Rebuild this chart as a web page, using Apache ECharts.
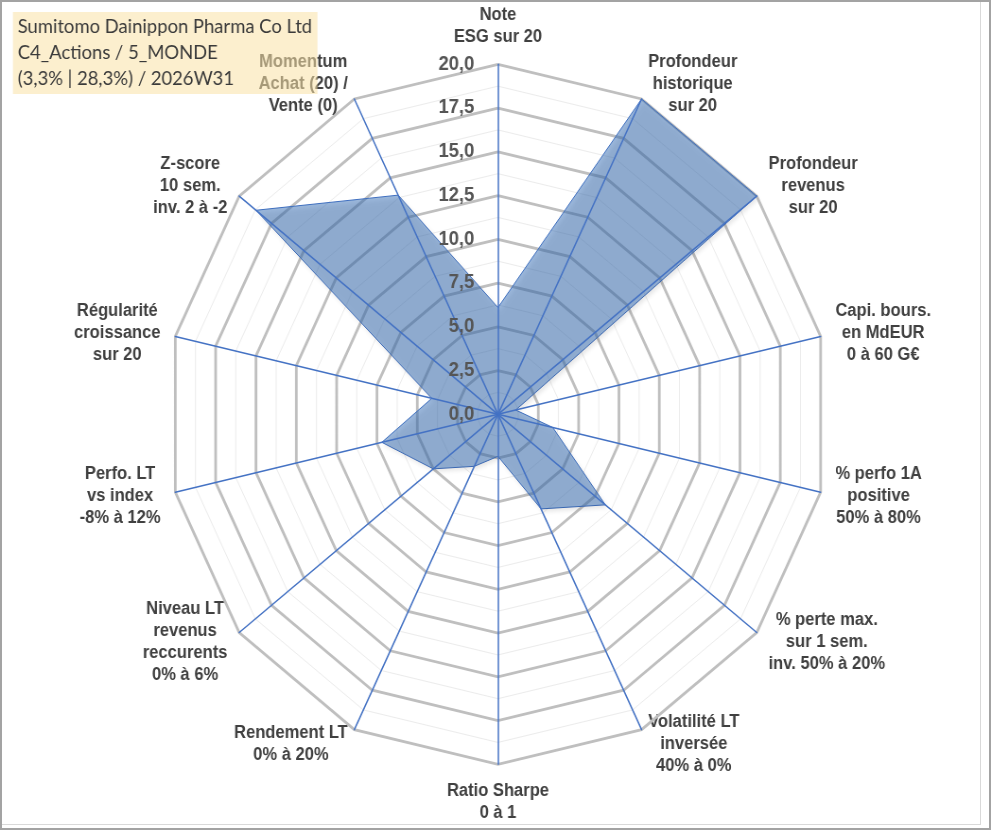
<!DOCTYPE html>
<html>
<head>
<meta charset="utf-8">
<script src="https://cdn.jsdelivr.net/npm/echarts@6/dist/echarts.min.js"></script>
<style>
  body { margin: 0; background: #fff; }
  #frame { position: absolute; left: 0; top: 0; width: 991px; height: 830px; overflow: hidden; background: #fff; }
  #chart { width: 1048px; height: 830px; transform: scaleX(0.94561); transform-origin: 0 0; }
  .inner { position: absolute; left: 0; top: 0; width: 981px; height: 825px; box-sizing: border-box;
           border-right: 1px solid #d9d9d9; border-bottom: 1px solid #d9d9d9; }
  .outer { position: absolute; left: 0; top: 0; width: 991px; height: 830px; box-sizing: border-box;
           border: 2px solid #a3a3a3; }
</style>
</head>
<body>
<div id="frame">
  <div id="chart"></div>
  <div class="inner"></div>
  <div class="outer"></div>
</div>
<script>
// axes in the clockwise order of the picture, starting at the top
const axisNames = [
  'Note\nESG sur 20',
  'Profondeur\nhistorique\nsur 20',
  'Profondeur\nrevenus\nsur 20',
  'Capi. bours.\nen MdEUR\n0 à 60 G€',
  '% perfo 1A\npositive\n50% à 80%',
  '% perte max.\nsur 1 sem.\ninv. 50% à 20%',
  'Volatilité LT\ninversée\n40% à 0%',
  'Ratio Sharpe\n0 à 1',
  'Rendement LT\n0% à 20%',
  'Niveau LT\nrevenus\nreccurents\n0% à 6%',
  'Perfo. LT\nvs index\n-8% à 12%',
  'Régularité\ncroissance\nsur 20',
  'Z-score\n10 sem.\ninv. 2 à -2',
  'Momentum\nAchat (20) /\nVente (0)'
];
const scores = [6.1, 20, 20, 1.1, 3.4, 8.3, 6.0, 2.4, 3.3, 5.0, 7.2, 4.1, 18.7, 13.9];
const scaleMin = 0;
const scaleMax = 20;
const majorSplits = 8;   // 2,5 steps
const minorSplits = 16;  // 1,25 steps
const titleLines = ['Sumitomo Dainippon Pharma Co Ltd', 'C4_Actions / 5_MONDE', '(3,3% | 28,3%) / 2026W31'];

// echarts lays indicators counter-clockwise, so keep the first one and reverse the rest
const order = [0];
for (let i = axisNames.length - 1; i > 0; i--) order.push(i);

const nameFont = { fontFamily: 'Liberation Sans', fontWeight: 'bold', fontSize: 17.5, lineHeight: 22, color: '#404040' };

function indicators(withLabel) {
  return order.map((i, k) => {
    const ind = { name: axisNames[i], min: scaleMin, max: scaleMax };
    if (withLabel && k === 0) {
      ind.axisLabel = {
        show: true, margin: 25, color: '#555555', fontFamily: 'Liberation Sans', fontWeight: 'bold', fontSize: 19.5,
        formatter: v => v.toFixed(1).replace('.', ',')
      };
    }
    return ind;
  });
}

const center = [526.6, 414.3];
const radius = 350;

const chart = echarts.init(document.getElementById('chart'));
chart.setOption({
  animation: false,
  backgroundColor: '#fff',
  title: {
    text: titleLines.join('\n'),
    left: 13.7, top: 12, z: 10,
    padding: [2, 5, 2, 5],
    backgroundColor: 'rgba(250,225,165,0.55)',
    textStyle: { fontFamily: 'Lato', fontWeight: 'normal', fontSize: 19.5, lineHeight: 26, color: '#3a3a3a', width: 312 }
  },
  radar: [
    {
      center, radius, z: 0, splitNumber: minorSplits, axisNameGap: 16,
      indicator: indicators(false),
      axisName: Object.assign({
        formatter: n => n.split('\n').map(l => '{c|' + l + '}').join('\n'),
        rich: { c: Object.assign({ align: 'center' }, nameFont) }
      }, nameFont),
      splitLine: { lineStyle: { color: '#ececec', width: 1 } },
      splitArea: { show: false },
      axisLine: { show: false },
      axisTick: { show: false },
      axisLabel: { show: false }
    },
    {
      center, radius, z: 1, splitNumber: majorSplits,
      indicator: indicators(false),
      axisName: { show: false },
      splitLine: { lineStyle: { color: '#bfbfbf', width: 2.8 } },
      splitArea: { show: false },
      axisLine: { show: false },
      axisTick: { show: false },
      axisLabel: { show: false }
    },
    {
      center, radius, z: 3, splitNumber: majorSplits,
      indicator: indicators(true),
      axisName: { show: false },
      splitLine: { show: false },
      splitArea: { show: false },
      axisLine: { lineStyle: { color: '#4472c4', width: 1.5 } },
      axisTick: { show: false },
      axisLabel: { show: false }
    }
  ],
  series: [{
    type: 'radar',
    radarIndex: 0,
    z: 2,
    symbol: 'none',
    lineStyle: { color: '#4472c4', width: 1 },
    areaStyle: {
      color: 'rgba(50,108,182,0.7)',
      shadowBlur: 4, shadowColor: 'rgba(0,0,0,0.2)', shadowOffsetX: 2, shadowOffsetY: 3
    },
    data: [{ value: order.map(i => scores[i]) }]
  }]
});
</script>
</body>
</html>
